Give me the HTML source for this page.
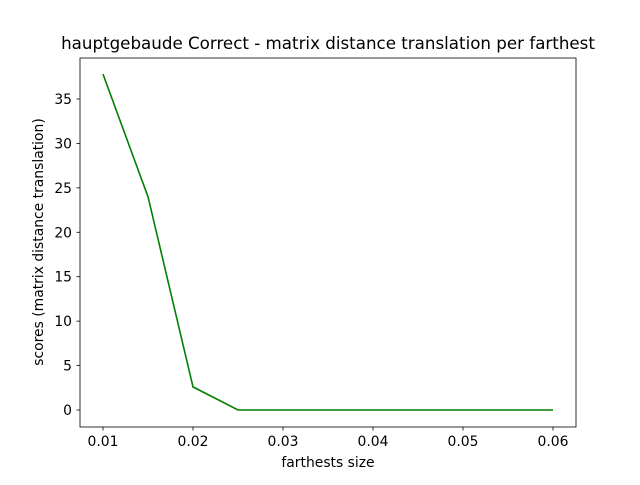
<!DOCTYPE html>
<html><head><meta charset="utf-8"><style>
body{margin:0;background:#fff;}
svg{font-family:"DejaVu Sans","Liberation Sans",sans-serif;}
</style></head><body>
<svg id="chart" width="640" height="480" viewBox="0 0 640 480">
<rect width="640" height="480" fill="#fff"/>
<text x="328" y="49" font-size="16.7" text-anchor="middle">hauptgebaude Correct - matrix distance translation per farthest</text>
<g id="ticks"></g>
<polyline id="series" fill="none" stroke="#008000" stroke-width="1.6"/>
<rect x="80" y="58" width="496" height="369" fill="none" stroke="#000" stroke-width="0.8"/>
<text x="328" y="467" font-size="13.9" text-anchor="middle">farthests size</text>
<text transform="translate(43,242) rotate(-90)" font-size="13.9" text-anchor="middle">scores (matrix distance translation)</text>
</svg>
<script>
const xValues=[0.01,0.015,0.02,0.025,0.03,0.035,0.04,0.045,0.05,0.055,0.06];
const yValues=[37.8,24.0,2.6,0,0,0,0,0,0,0,0];
const xTicks=[0.01,0.02,0.03,0.04,0.05,0.06];
const xTickLabels=["0.01","0.02","0.03","0.04","0.05","0.06"];
const yTicks=[0,5,10,15,20,25,30,35];
const yTickLabels=["0","5","10","15","20","25","30","35"];
function sx(v){return 103+(v-0.01)*9000;}
function sy(v){return 410-v*8.886;}
const NS="http://www.w3.org/2000/svg";
const g=document.getElementById('ticks');
xTicks.forEach((t,i)=>{
  const l=document.createElementNS(NS,'line');
  l.setAttribute('x1',sx(t));l.setAttribute('x2',sx(t));l.setAttribute('y1',427);l.setAttribute('y2',430.5);l.setAttribute('stroke','#000');l.setAttribute('stroke-width','0.8');
  
  
  g.appendChild(l);
  const tx=document.createElementNS(NS,'text');
  tx.setAttribute('x',sx(t));tx.setAttribute('y',446);tx.setAttribute('font-size','13.9');tx.setAttribute('text-anchor','middle');
  tx.textContent=xTickLabels[i];
  
  
  g.appendChild(tx);
});
yTicks.forEach((t,i)=>{
  const l=document.createElementNS(NS,'line');
  l.setAttribute('x1',76.5);l.setAttribute('x2',80);l.setAttribute('y1',sy(t));l.setAttribute('y2',sy(t));l.setAttribute('stroke','#000');l.setAttribute('stroke-width','0.8');
  
  
  g.appendChild(l);
  const tx=document.createElementNS(NS,'text');
  tx.setAttribute('x',72);tx.setAttribute('y',sy(t)+5);tx.setAttribute('font-size','13.9');tx.setAttribute('text-anchor','end');
  tx.textContent=yTickLabels[i];
  
  
  g.appendChild(tx);
});
document.getElementById('series').setAttribute('points',xValues.map((x,i)=>sx(x)+','+sy(yValues[i])).join(' '));
</script>
</body></html>
